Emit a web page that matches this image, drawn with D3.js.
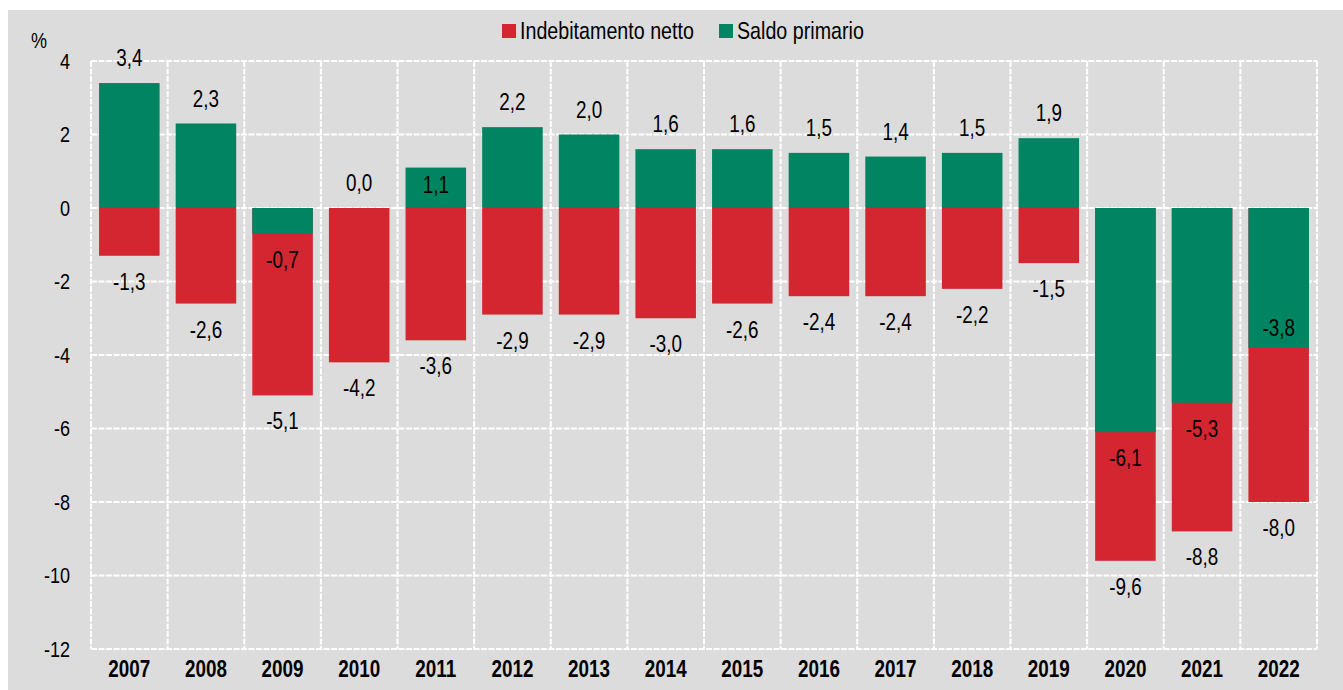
<!doctype html>
<html lang="it">
<head>
	<meta charset="UTF-8">
	<title>Indebitamento netto e saldo primario</title>
	<style>
		body {
			margin: 0;
			background: #fff;
		}

		svg text {
			font-family: "Liberation Sans", Arial, sans-serif;
			fill: #000;
		}

		.grid line {
			stroke: #fff;
			stroke-width: 2;
			stroke-dasharray: 6, 1.5;
		}

		.val {
			font-size: 23px;
			text-anchor: middle;
		}

		.year {
			font-size: 23px;
			font-weight: bold;
			text-anchor: middle;
		}
	</style>
</head>
<body>
	<script src="https://cdn.jsdelivr.net/npm/d3@7"></script>
	<script>
		// dati (% del PIL)
		var years = ['2007', '2008', '2009', '2010', '2011', '2012', '2013', '2014',
			'2015', '2016', '2017', '2018', '2019', '2020', '2021', '2022'];
		var indebitamento = [-1.3, -2.6, -5.1, -4.2, -3.6, -2.9, -2.9, -3.0,
			-2.6, -2.4, -2.4, -2.2, -1.5, -9.6, -8.8, -8.0];
		var saldoPrimario = [3.4, 2.3, -0.7, 0.0, 1.1, 2.2, 2.0, 1.6,
			1.6, 1.5, 1.4, 1.5, 1.9, -6.1, -5.3, -3.8];
		var yTicks = [4, 2, 0, -2, -4, -6, -8, -10, -12];
		// anni con etichetta del saldo primario dentro la barra
		var labelInside = ['2011', '2022'];

		var w = 1343,
			h = 690,
			red = '#d42631',
			green = '#008462',
			narrow = 0.82;

		var plot = {left: 91, right: 1317, top: 61, bottom: 649};

		var svg = d3.select('body')
			.append('svg')
			.attr('width', w)
			.attr('height', h);

		// sfondo grigio
		svg.append('rect')
			.attr('x', 8)
			.attr('y', 10)
			.attr('width', w - 8)
			.attr('height', h - 10)
			.attr('fill', '#dcdcdc');

		var xScale = d3.scaleBand()
			.domain(years)
			.range([plot.left, plot.right])
			.paddingInner(0.21)
			.paddingOuter(0.105);

		var yScale = d3.scaleLinear()
			.domain([-12, 4])
			.range([plot.bottom, plot.top]);

		var step = xScale.step();
		var fmt = function(v) {
			return d3.format('.1f')(v).replace('.', ',').replace('−', '-');
		};

		/**
		* testo stretto (simula un font narrow)
		*/
		var place = function(sel, fx, fy) {
			sel.attr('dy', '0.35em')
				.attr('transform', function(d, i) {
					return 'translate(' + fx(d, i) + ',' + fy(d, i) + ') scale(' + narrow + ',1)';
				});
		};

		// griglia
		var grid = svg.append('g').attr('class', 'grid');
		grid.selectAll('line.h')
			.data(yTicks)
			.enter()
			.append('line')
			.attr('x1', plot.left)
			.attr('x2', plot.right)
			.attr('y1', function(d) { return yScale(d); })
			.attr('y2', function(d) { return yScale(d); });

		var bounds = d3.range(years.length + 1);
		grid.selectAll('line.v')
			.data(bounds)
			.enter()
			.append('line')
			.attr('x1', function(i) { return plot.left + i * step; })
			.attr('x2', function(i) { return plot.left + i * step; })
			.attr('y1', plot.top)
			.attr('y2', plot.bottom);

		// barre: prima indebitamento, poi saldo primario sopra
		svg.append('g')
			.selectAll('rect')
			.data(indebitamento)
			.enter()
			.append('rect')
			.attr('x', function(d, i) { return xScale(years[i]); })
			.attr('width', xScale.bandwidth())
			.attr('y', function(d) { return yScale(Math.max(0, d)); })
			.attr('height', function(d) { return Math.abs(yScale(d) - yScale(0)); })
			.attr('fill', red);

		svg.append('g')
			.selectAll('rect')
			.data(saldoPrimario)
			.enter()
			.append('rect')
			.attr('x', function(d, i) { return xScale(years[i]); })
			.attr('width', xScale.bandwidth())
			.attr('y', function(d) { return yScale(Math.max(0, d)); })
			.attr('height', function(d) { return Math.abs(yScale(d) - yScale(0)); })
			.attr('fill', green);

		// etichette valori
		var labelY = function(d, inside) {
			if (inside) {
				return d >= 0 ? yScale(d) + 17 : yScale(d) - 20;
			}
			return d >= 0 ? yScale(d) - 25 : yScale(d) + 26;
		};
		var centerX = function(d, i) {
			return xScale(years[i]) + xScale.bandwidth() / 2;
		};

		svg.append('g')
			.selectAll('text')
			.data(indebitamento)
			.enter()
			.append('text')
			.attr('class', 'val')
			.call(place, centerX, function(d) { return labelY(d, false); })
			.text(fmt);

		svg.append('g')
			.selectAll('text')
			.data(saldoPrimario)
			.enter()
			.append('text')
			.attr('class', 'val')
			.call(place, centerX, function(d, i) {
				return labelY(d, labelInside.indexOf(years[i]) >= 0);
			})
			.text(fmt);

		// asse y
		svg.append('g')
			.selectAll('text')
			.data(yTicks)
			.enter()
			.append('text')
			.attr('text-anchor', 'end')
			.style('font-size', '22px')
			.call(place, function() { return 70; }, function(d) { return yScale(d); })
			.text(function(d) { return String(d); });

		svg.append('text')
			.style('font-size', '22px')
			.call(place, function() { return 31; }, function() { return 40; })
			.text('%');

		// asse x
		svg.append('g')
			.selectAll('text')
			.data(years)
			.enter()
			.append('text')
			.attr('class', 'year')
			.call(place, function(d) { return xScale(d) + xScale.bandwidth() / 2; }, function() { return 669; })
			.text(function(d) { return d; });

		// legenda
		var legend = [
			{name: 'Indebitamento netto', color: red, x: 502},
			{name: 'Saldo primario', color: green, x: 719}
		];
		var lg = svg.append('g')
			.selectAll('g')
			.data(legend)
			.enter()
			.append('g')
			.attr('transform', function(d) { return 'translate(' + d.x + ',31)'; });
		lg.append('rect')
			.attr('x', 0)
			.attr('y', -7)
			.attr('width', 14)
			.attr('height', 14)
			.attr('fill', function(d) { return d.color; });
		lg.append('text')
			.style('font-size', '24px')
			.call(place, function() { return 18; }, function() { return 0; })
			.text(function(d) { return d.name; });
	</script>
</body>
</html>
